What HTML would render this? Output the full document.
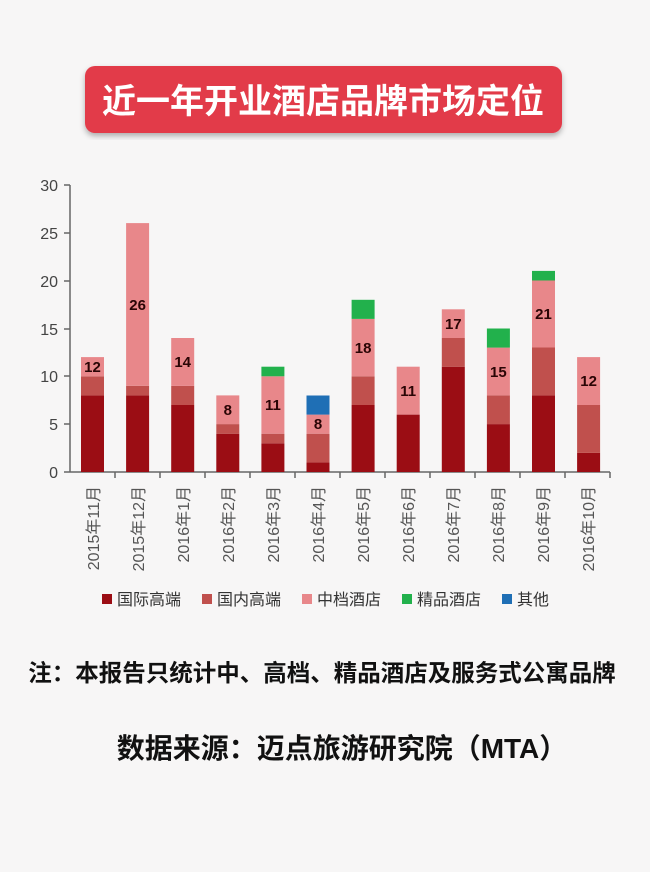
<!DOCTYPE html>
<html><head><meta charset="utf-8"><style>
body{margin:0;width:650px;height:867px;background:#f7f6f6;overflow:hidden}
</style></head><body>
<svg width="650" height="867" xmlns="http://www.w3.org/2000/svg" font-family="Liberation Sans, Noto Sans CJK SC, sans-serif">
<defs><filter id="sh"><feDropShadow dx="0" dy="3" stdDeviation="3" flood-opacity="0.3"/></filter></defs>
<rect x="85" y="66" width="477" height="67" rx="10" fill="#e23a48" filter="url(#sh)"/>
<text x="323" y="113" text-anchor="middle" font-size="34" font-weight="bold" fill="#fff">近一年开业酒店品牌市场定位</text>
<g font-size="16" fill="#444" text-anchor="end">
<text x="58" y="478">0</text><text x="58" y="430">5</text><text x="58" y="382">10</text><text x="58" y="335">15</text><text x="58" y="287">20</text><text x="58" y="239">25</text><text x="58" y="191">30</text>
</g>
<g stroke="#666" stroke-width="1.5"><line x1="70" y1="185" x2="70" y2="472"/><line x1="70" y1="472" x2="610" y2="472"/>
<line x1="64" y1="185" x2="70" y2="185"/><line x1="64" y1="233" x2="70" y2="233"/><line x1="64" y1="281" x2="70" y2="281"/><line x1="64" y1="329" x2="70" y2="329"/><line x1="64" y1="376" x2="70" y2="376"/><line x1="64" y1="424" x2="70" y2="424"/><line x1="64" y1="472" x2="70" y2="472"/>
<line x1="115" y1="472" x2="115" y2="478"/><line x1="160" y1="472" x2="160" y2="478"/><line x1="205" y1="472" x2="205" y2="478"/><line x1="250" y1="472" x2="250" y2="478"/><line x1="295" y1="472" x2="295" y2="478"/><line x1="340" y1="472" x2="340" y2="478"/><line x1="385" y1="472" x2="385" y2="478"/><line x1="430" y1="472" x2="430" y2="478"/><line x1="475" y1="472" x2="475" y2="478"/><line x1="520" y1="472" x2="520" y2="478"/><line x1="565" y1="472" x2="565" y2="478"/><line x1="610" y1="472" x2="610" y2="478"/>
</g>
<g>
<rect x="81" y="395.4" width="23" height="76.6" fill="#9b0d14"/><rect x="81" y="376.3" width="23" height="19.1" fill="#c0504d"/><rect x="81" y="357.1" width="23" height="19.2" fill="#e8878a"/>
<rect x="126.1" y="395.4" width="23" height="76.6" fill="#9b0d14"/><rect x="126.1" y="385.8" width="23" height="9.6" fill="#c0504d"/><rect x="126.1" y="223.1" width="23" height="162.7" fill="#e8878a"/>
<rect x="171.2" y="405" width="23" height="67" fill="#9b0d14"/><rect x="171.2" y="385.9" width="23" height="19.1" fill="#c0504d"/><rect x="171.2" y="338" width="23" height="47.9" fill="#e8878a"/>
<rect x="216.3" y="433.7" width="23" height="38.3" fill="#9b0d14"/><rect x="216.3" y="424.1" width="23" height="9.6" fill="#c0504d"/><rect x="216.3" y="395.4" width="23" height="28.7" fill="#e8878a"/>
<rect x="261.4" y="443.3" width="23" height="28.7" fill="#9b0d14"/><rect x="261.4" y="433.7" width="23" height="9.6" fill="#c0504d"/><rect x="261.4" y="376.3" width="23" height="57.4" fill="#e8878a"/><rect x="261.4" y="366.7" width="23" height="9.6" fill="#22b14c"/>
<rect x="306.5" y="462.4" width="23" height="9.6" fill="#9b0d14"/><rect x="306.5" y="433.7" width="23" height="28.7" fill="#c0504d"/><rect x="306.5" y="414.6" width="23" height="19.1" fill="#e8878a"/><rect x="306.5" y="395.5" width="23" height="19.1" fill="#1f6fb5"/>
<rect x="351.6" y="405" width="23" height="67" fill="#9b0d14"/><rect x="351.6" y="376.3" width="23" height="28.7" fill="#c0504d"/><rect x="351.6" y="318.9" width="23" height="57.4" fill="#e8878a"/><rect x="351.6" y="299.8" width="23" height="19.1" fill="#22b14c"/>
<rect x="396.7" y="414.6" width="23" height="57.4" fill="#9b0d14"/><rect x="396.7" y="366.7" width="23" height="47.9" fill="#e8878a"/>
<rect x="441.8" y="366.7" width="23" height="105.3" fill="#9b0d14"/><rect x="441.8" y="338" width="23" height="28.7" fill="#c0504d"/><rect x="441.8" y="309.3" width="23" height="28.7" fill="#e8878a"/>
<rect x="486.9" y="424.1" width="23" height="47.9" fill="#9b0d14"/><rect x="486.9" y="395.4" width="23" height="28.7" fill="#c0504d"/><rect x="486.9" y="347.6" width="23" height="47.8" fill="#e8878a"/><rect x="486.9" y="328.5" width="23" height="19.1" fill="#22b14c"/>
<rect x="532" y="395.4" width="23" height="76.6" fill="#9b0d14"/><rect x="532" y="347.5" width="23" height="47.9" fill="#c0504d"/><rect x="532" y="280.5" width="23" height="67" fill="#e8878a"/><rect x="532" y="270.9" width="23" height="9.6" fill="#22b14c"/>
<rect x="577.1" y="452.9" width="23" height="19.1" fill="#9b0d14"/><rect x="577.1" y="405" width="23" height="47.9" fill="#c0504d"/><rect x="577.1" y="357.1" width="23" height="47.9" fill="#e8878a"/>
</g>
<g font-size="15" font-weight="bold" fill="#2a0505" text-anchor="middle">
<text x="92.5" y="372">12</text><text x="137.6" y="310">26</text><text x="182.7" y="367">14</text><text x="227.8" y="415">8</text><text x="272.9" y="410">11</text><text x="318" y="429">8</text><text x="363.1" y="353">18</text><text x="408.2" y="396">11</text><text x="453.3" y="329">17</text><text x="498.4" y="377">15</text><text x="543.5" y="319">21</text><text x="588.6" y="386">12</text>
</g>
<g font-size="16" fill="#555" text-anchor="end">
<text transform="translate(99,486) rotate(-90)">2015年11月</text>
<text transform="translate(144,486) rotate(-90)">2015年12月</text>
<text transform="translate(189,486) rotate(-90)">2016年1月</text>
<text transform="translate(234,486) rotate(-90)">2016年2月</text>
<text transform="translate(279,486) rotate(-90)">2016年3月</text>
<text transform="translate(324,486) rotate(-90)">2016年4月</text>
<text transform="translate(369,486) rotate(-90)">2016年5月</text>
<text transform="translate(414,486) rotate(-90)">2016年6月</text>
<text transform="translate(459,486) rotate(-90)">2016年7月</text>
<text transform="translate(504,486) rotate(-90)">2016年8月</text>
<text transform="translate(549,486) rotate(-90)">2016年9月</text>
<text transform="translate(594,486) rotate(-90)">2016年10月</text>
</g>
<g font-size="16" fill="#333">
<rect x="102" y="594" width="10" height="10" fill="#9b0d14"/><text x="117" y="605">国际高端</text>
<rect x="202" y="594" width="10" height="10" fill="#c0504d"/><text x="217" y="605">国内高端</text>
<rect x="302" y="594" width="10" height="10" fill="#e8878a"/><text x="317" y="605">中档酒店</text>
<rect x="402" y="594" width="10" height="10" fill="#22b14c"/><text x="417" y="605">精品酒店</text>
<rect x="502" y="594" width="10" height="10" fill="#1f6fb5"/><text x="517" y="605">其他</text>
</g>
<text x="322" y="681" text-anchor="middle" font-size="23.5" font-weight="bold" fill="#111">注：本报告只统计中、高档、精品酒店及服务式公寓品牌</text>
<text x="342" y="758" text-anchor="middle" font-size="28" font-weight="bold" fill="#111">数据来源：迈点旅游研究院（MTA）</text>
</svg>
</body></html>
